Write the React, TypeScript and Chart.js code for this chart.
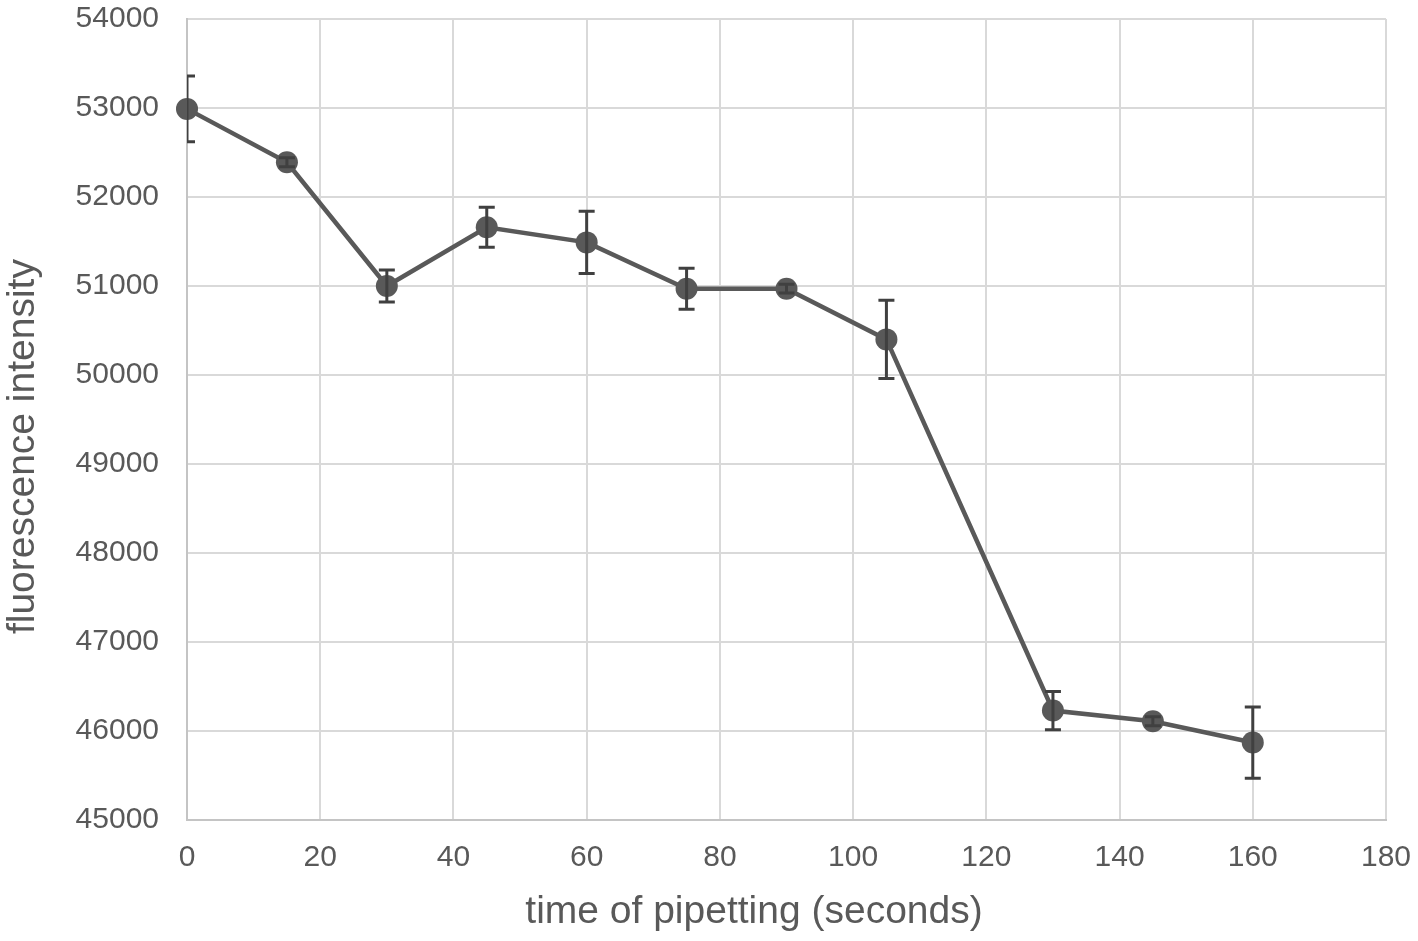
import { useEffect, useRef } from "react";
import { Chart, registerables } from "chart.js";

Chart.register(...registerables);

// values
const TIMES = [0, 15, 30, 45, 60, 75, 90, 105, 130, 145, 160];
const INTENSITY = [52990, 52390, 51000, 51660, 51490, 50970, 50970, 50400, 46230, 46110, 45870];
const ERRORS = [370, 50, 180, 225, 350, 230, 50, 440, 215, 50, 400];

const X_MIN = 0;
const X_MAX = 180;
const X_STEP = 20;
const Y_MIN = 45000;
const Y_MAX = 54000;
const Y_STEP = 1000;

const FONT = "'Liberation Sans', Arial, sans-serif";
const TEXT = "#595959";

// axis titles sit a bit toward the origin in the original, trailing spaces push them there
const X_TITLE = "time of pipetting (seconds)" + "\u00a0".repeat(6);
const Y_TITLE = "fluorescence intensity" + "\u00a0".repeat(5);

// draws the ± error bars from ERRORS on the chart's own scales
const errorBars = {
  id: "errorBars",
  afterDatasetsDraw(chart: Chart) {
    const { ctx, chartArea, scales } = chart;
    const xs = scales.x;
    const ys = scales.y;
    ctx.save();
    ctx.beginPath();
    ctx.rect(chartArea.left, chartArea.top - 20, chartArea.right - chartArea.left, chartArea.bottom - chartArea.top + 40);
    ctx.clip();
    ctx.strokeStyle = "#404040";
    ctx.lineWidth = 3;
    TIMES.forEach((t, i) => {
      const x = xs.getPixelForValue(t);
      const top = ys.getPixelForValue(INTENSITY[i] + ERRORS[i]);
      const bot = ys.getPixelForValue(INTENSITY[i] - ERRORS[i]);
      ctx.beginPath();
      ctx.moveTo(x, top);
      ctx.lineTo(x, bot);
      ctx.moveTo(x - 8, top);
      ctx.lineTo(x + 8, top);
      ctx.moveTo(x - 8, bot);
      ctx.lineTo(x + 8, bot);
      ctx.stroke();
    });
    ctx.restore();
  },
};

export default function App() {
  const canvasRef = useRef<HTMLCanvasElement>(null);

  useEffect(() => {
    if (!canvasRef.current) return;
    document.body.style.margin = "0";

    const chart = new Chart(canvasRef.current, {
      type: "line",
      data: {
        datasets: [
          {
            label: "fluorescence intensity",
            data: TIMES.map((t, i) => ({ x: t, y: INTENSITY[i] })),
            borderColor: "#595959",
            backgroundColor: "#595959",
            borderWidth: 4.5,
            pointRadius: 11,
            pointBorderWidth: 0,
            pointBackgroundColor: "#595959",
            tension: 0,
            clip: false,
          },
        ],
      },
      options: {
        animation: false,
        responsive: true,
        maintainAspectRatio: false,
        layout: { padding: { top: 19, right: 32, bottom: 0, left: 0 } },
        plugins: {
          legend: { display: false },
          tooltip: { enabled: false },
        },
        scales: {
          x: {
            type: "linear",
            min: X_MIN,
            max: X_MAX,
            border: { color: "#c4c4c4", width: 2 },
            grid: { color: "#d9d9d9", lineWidth: 2, drawTicks: false },
            ticks: {
              stepSize: X_STEP,
              padding: 20,
              color: TEXT,
              font: { family: FONT, size: 30 },
              callback: (v) => String(v),
            },
            title: {
              display: true,
              text: X_TITLE,
              color: TEXT,
              font: { family: FONT, size: 39 },
              padding: { top: 0, bottom: 5 },
            },
            afterFit: (s) => {
              s.paddingLeft = 0;
              s.paddingRight = 0;
              s.height = 121;
            },
          },
          y: {
            type: "linear",
            min: Y_MIN,
            max: Y_MAX,
            border: { color: "#c4c4c4", width: 2 },
            grid: { color: "#d9d9d9", lineWidth: 2, drawTicks: false },
            ticks: {
              stepSize: Y_STEP,
              padding: 28,
              color: TEXT,
              font: { family: FONT, size: 30 },
              callback: (v) => String(v),
            },
            title: {
              display: true,
              text: Y_TITLE,
              color: TEXT,
              font: { family: FONT, size: 39 },
              padding: { top: 0, bottom: 0 },
            },
            afterFit: (s) => {
              s.paddingTop = 0;
              s.paddingBottom = 0;
              s.width = 187;
            },
          },
        },
      },
      plugins: [errorBars],
    });

    return () => {
      chart.destroy();
    };
  }, []);

  return (
    <div style={{ position: "fixed", left: 0, top: 0, width: 1418, height: 941, background: "#fff" }}>
      <canvas ref={canvasRef} />
    </div>
  );
}
